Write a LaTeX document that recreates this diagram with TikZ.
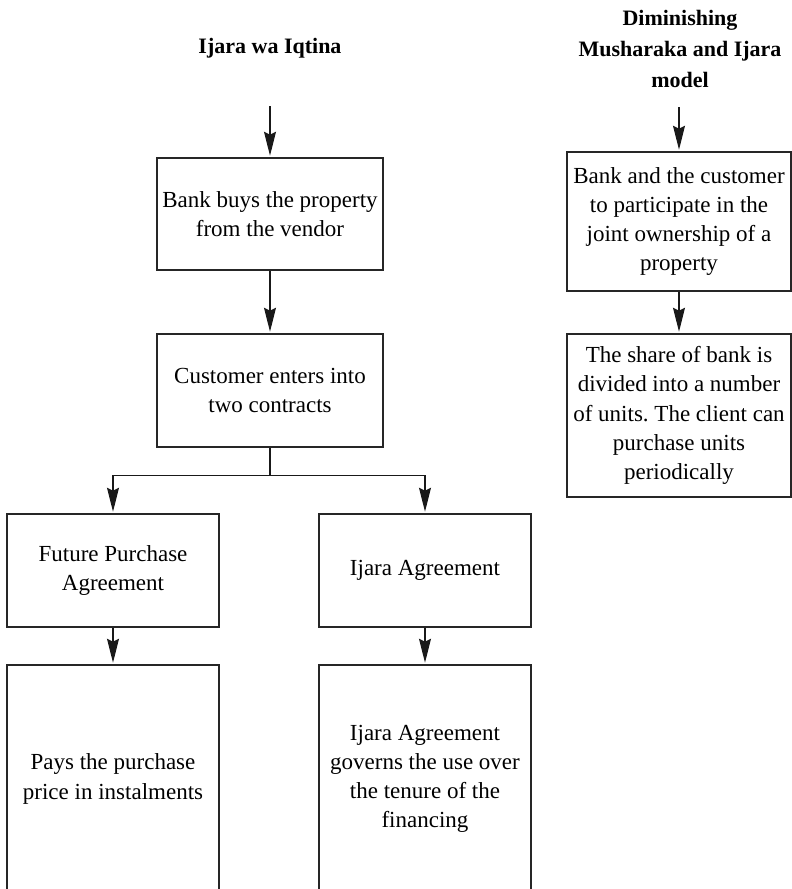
\documentclass[tikz,border=0pt]{standalone}
\usepackage{fontspec}
\setmainfont{Liberation Serif}
\usepackage{tikz}
\usetikzlibrary{positioning,arrows.meta}
\frenchspacing

\begin{document}
\begin{tikzpicture}[
  x=0.5pt, y=-0.5pt,
  box/.style   = {rectangle, draw=black!85, line width=0.7pt,
                  inner sep=0pt, align=center,
                  font=\fontsize{11.5}{14.6}\selectfont},
  head/.style  = {align=center, inner sep=0pt,
                  font=\fontsize{11}{15.4}\selectfont\bfseries},
  arr/.style   = {-{Stealth[length=12pt, width=6pt, inset=1.5pt]},
                  line width=0.6pt, black!90, shorten >=0.8pt},
]
\useasboundingbox (0,0) rectangle (792,889);
% headings
\node[head] (iwi)  at (270, 48) {Ijara wa Iqtina};
\node[head] (dmi)  at (680, 49) {Diminishing\\Musharaka and Ijara\\model};
\coordinate (iwiin) at (270,106);
\coordinate (dmiin) at (679,107);
% Ijara wa Iqtina
\node[box, minimum width=113pt, minimum height=56pt]   (buys)  at (270, 214)
  {Bank buys the property\\from the vendor};
\node[box, minimum width=113pt, minimum height=56.5pt] (enters) at (270, 390.5)
  {Customer enters into\\two contracts};
\node[box, minimum width=106pt, minimum height=56.5pt] (fpa)   at (113, 570.5)
  {Future Purchase\\Agreement};
\node[box, minimum width=106pt, minimum height=56.5pt] (ijara) at (425, 570.5)
  {Ijara Agreement};
\node[box, minimum width=106pt, minimum height=114pt]  (pays)  at (113, 779)
  {Pays the purchase\\price in instalments};
\node[box, minimum width=106pt, minimum height=114pt]  (govern) at (425, 779)
  {Ijara Agreement\\governs the use over\\the tenure of the\\financing};
% Diminishing Musharaka
\node[box, minimum width=112pt, minimum height=69.5pt] (joint) at (679, 221.5)
  {Bank and the customer\\to participate in the\\joint ownership of a\\property};
\node[box, minimum width=112pt, minimum height=81.5pt] (units) at (679, 415.5)
  {The share of bank is\\divided into a number\\of units. The client can\\purchase units\\periodically};
% arrows
\draw[arr] (iwiin)  -- (buys);
\draw[arr] (buys)   -- (enters);
\draw[arr] (enters.south) -- ++(0,28) -| (fpa.north);
\draw[arr] (enters.south) -- ++(0,28) -| (ijara.north);
\draw[arr] (fpa)    -- (pays);
\draw[arr] (ijara)  -- (govern);
\draw[arr] (dmiin)  -- (joint);
\draw[arr] (joint)  -- (units);
\end{tikzpicture}
\end{document}
